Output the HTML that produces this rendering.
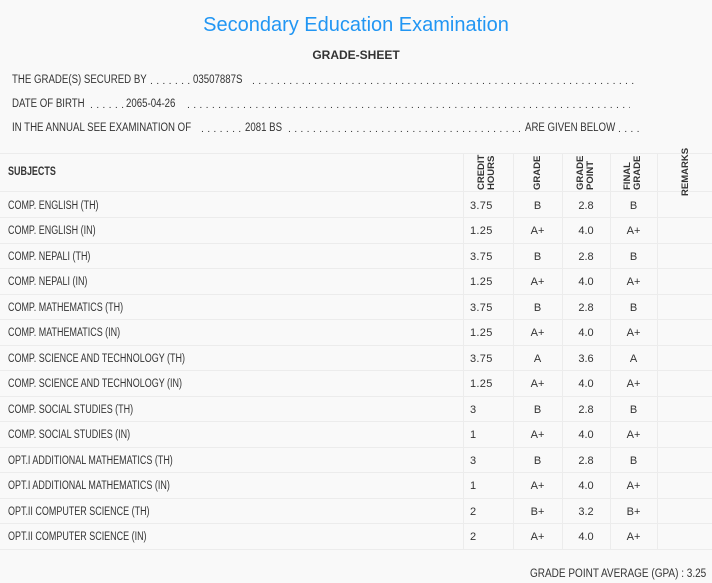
<!DOCTYPE html>
<html><head><style>
body{margin:0;width:712px;height:583px;background:#f9f9f9;font-family:"Liberation Sans",sans-serif;color:#333;position:relative;overflow:hidden;font-size:11.5px}
.a{position:absolute;white-space:nowrap}
.s{transform:scaleX(0.78);transform-origin:left top}
.h{transform:scaleX(0.84);transform-origin:left top}
.t{left:0;width:712px;text-align:center;top:14px;font-size:20px;color:#2196f3}
.hl{position:absolute;left:0;width:712px;height:1px;background:#ececec}
.vl{position:absolute;width:1px;background:#ececec;top:153px;height:397px}
.c{position:absolute;text-align:center;font-size:11px}
.dt{position:absolute;overflow:hidden;white-space:nowrap;letter-spacing:3.3px;font-size:10.5px}
.rot{position:absolute;transform:rotate(-90deg);transform-origin:left top;font-weight:bold;font-size:9.5px;line-height:10px;text-align:left}
</style></head><body>
<div class="a t">Secondary Education Examination</div>
<div class="a" style="left:0;width:712px;text-align:center;top:48px;font-size:12px;font-weight:bold">GRADE-SHEET</div>
<div class="a h" style="left:12px;top:74px">THE GRADE(S) SECURED BY</div>
<div class="dt" style="left:150px;top:75px;width:40px">...........</div>
<div class="a h" style="left:193px;top:74px">03507887S</div>
<div class="dt" style="left:252px;top:75px;width:386px">..............................................................................................................</div>
<div class="a h" style="left:12px;top:98px">DATE OF BIRTH</div>
<div class="dt" style="left:90px;top:99px;width:34px">..........</div>
<div class="a h" style="left:126px;top:98px">2065-04-26</div>
<div class="dt" style="left:187px;top:99px;width:443px">...............................................................................................................................</div>
<div class="a h" style="left:12px;top:122px">IN THE ANNUAL SEE EXAMINATION OF</div>
<div class="dt" style="left:201px;top:123px;width:40px">..........</div>
<div class="a h" style="left:245px;top:122px">2081 BS</div>
<div class="dt" style="left:288px;top:123px;width:232px">...............................................................................</div>
<div class="a h" style="left:525px;top:122px">ARE GIVEN BELOW</div>
<div class="dt" style="left:618px;top:123px;width:22px">.......</div>
<div class="hl" style="top:153px"></div>
<div class="hl" style="top:191px"></div>
<div class="vl" style="left:463px"></div><div class="vl" style="left:513px"></div><div class="vl" style="left:562px"></div><div class="vl" style="left:610px"></div><div class="vl" style="left:657px"></div>
<div class="a s" style="left:8px;top:166px;font-weight:bold">SUBJECTS</div>
<div class="rot" style="left:477px;top:190px">CREDIT<br>HOURS</div>
<div class="rot" style="left:533px;top:190px">GRADE</div>
<div class="rot" style="left:576px;top:190px">GRADE<br>POINT</div>
<div class="rot" style="left:623px;top:190px">FINAL<br>GRADE</div>
<div class="rot" style="left:681px;top:196px">REMARKS</div>
<div id="rows"></div>
<div class="a s" style="left:530px;top:568px;transform:scaleX(0.87)">GRADE POINT AVERAGE (GPA) : 3.25</div>
<script>
var d=[["COMP. ENGLISH (TH)","3.75","B","2.8","B"],["COMP. ENGLISH (IN)","1.25","A+","4.0","A+"],["COMP. NEPALI (TH)","3.75","B","2.8","B"],["COMP. NEPALI (IN)","1.25","A+","4.0","A+"],["COMP. MATHEMATICS (TH)","3.75","B","2.8","B"],["COMP. MATHEMATICS (IN)","1.25","A+","4.0","A+"],["COMP. SCIENCE AND TECHNOLOGY (TH)","3.75","A","3.6","A"],["COMP. SCIENCE AND TECHNOLOGY (IN)","1.25","A+","4.0","A+"],["COMP. SOCIAL STUDIES (TH)","3","B","2.8","B"],["COMP. SOCIAL STUDIES (IN)","1","A+","4.0","A+"],["OPT.I ADDITIONAL MATHEMATICS (TH)","3","B","2.8","B"],["OPT.I ADDITIONAL MATHEMATICS (IN)","1","A+","4.0","A+"],["OPT.II COMPUTER SCIENCE (TH)","2","B+","3.2","B+"],["OPT.II COMPUTER SCIENCE (IN)","2","A+","4.0","A+"]];
var h="";
d.forEach(function(r,i){var y=199.5+i*25.5;
h+='<div class="a s" style="left:8px;top:'+y+'px">'+r[0]+'</div>';
h+='<div class="a" style="left:470px;top:'+y+'px;font-size:11px;letter-spacing:0.3px">'+r[1]+'</div>';
h+='<div class="c" style="left:513px;width:49px;top:'+y+'px">'+r[2]+'</div>';
h+='<div class="c" style="left:562px;width:48px;top:'+y+'px">'+r[3]+'</div>';
h+='<div class="c" style="left:610px;width:47px;top:'+y+'px">'+r[4]+'</div>';
h+='<div class="hl" style="top:'+(y+17.5)+'px"></div>';});
document.getElementById("rows").innerHTML=h;
</script>
</body></html>
